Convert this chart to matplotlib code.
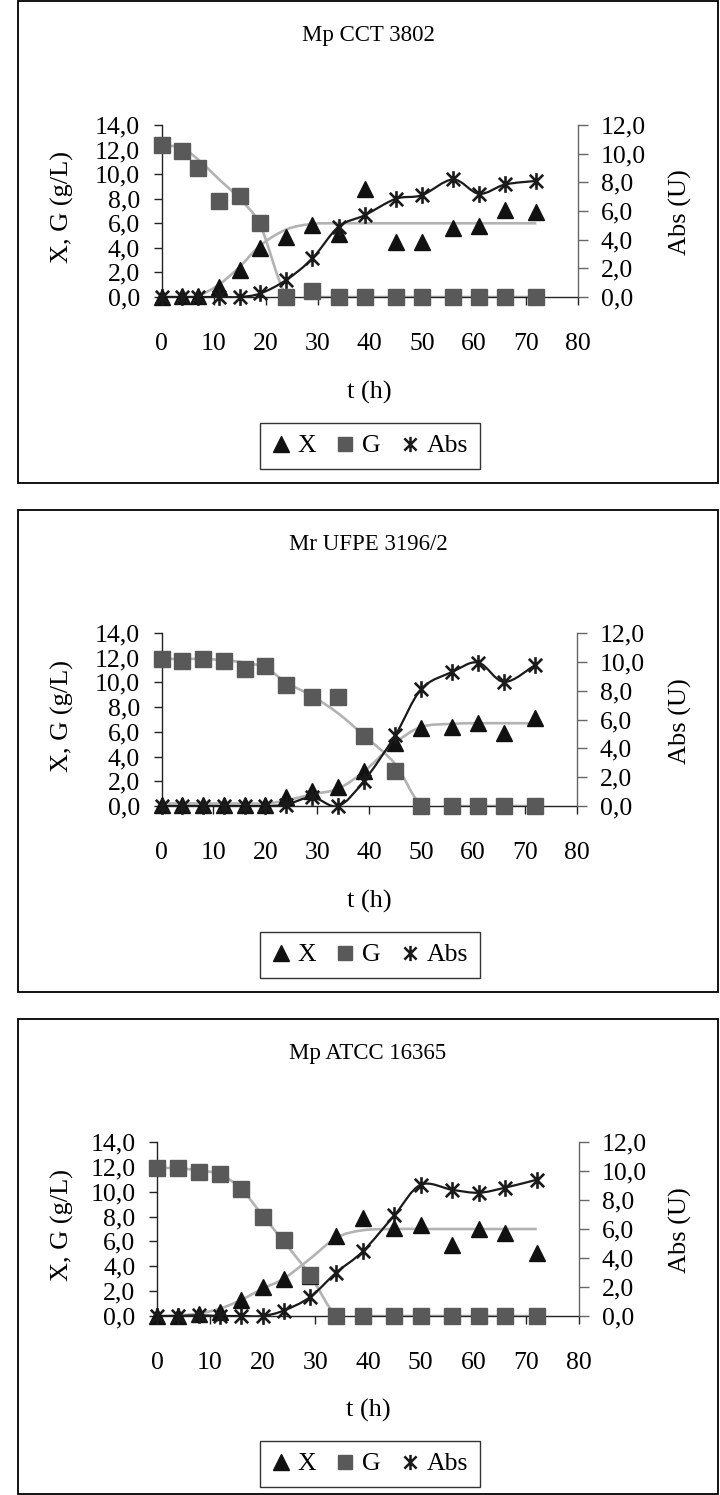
import numpy as np
import matplotlib
matplotlib.use("Agg")
import matplotlib.pyplot as plt
from matplotlib.path import Path
from matplotlib.patches import PathPatch, Rectangle
from matplotlib.lines import Line2D
from matplotlib.ticker import FuncFormatter

plt.rcParams['font.family'] = ['Liberation Serif', 'DejaVu Serif']

# ---------------- data ----------------
titles = ["Mp CCT 3802", "Mr UFPE 3196/2", "Mp ATCC 16365"]

t1 = [0, 4, 7, 11, 15, 19, 24, 29, 34, 39, 45, 50, 56, 61, 66, 72]
X1 = [0.0, 0.05, 0.1, 0.85, 2.2, 4.0, 4.9, 5.9, 5.1, 8.8, 4.5, 4.5, 5.6, 5.8, 7.1, 6.95]
G1 = [12.4, 11.9, 10.5, 7.8, 8.2, 6.0, 0.0, 0.5, 0, 0, 0, 0, 0, 0, 0, 0]
A1 = [0, 0, 0, 0, 0, 0.25, 1.2, 2.7, 4.9, 5.7, 6.85, 7.1, 8.2, 7.2, 7.85, 8.1]
Xfit1 = [0, 0, 0.1, 1.0, 2.45, 4.2, 5.5, 5.95, 6.0, 6.0, 6.0, 6.0, 6.0, 6.0, 6.0, 6.0]
Gfit1 = [12.4, 12.1, 11.2, 9.6, 8.0, 5.8, 0.1, 0, 0, 0, 0, 0, 0, 0, 0, 0]

t2 = [0, 4, 8, 12, 16, 20, 24, 29, 34, 39, 45, 50, 56, 61, 66, 72]
X2 = [0.1, 0.1, 0.1, 0.1, 0.1, 0.1, 0.7, 1.2, 1.5, 2.8, 5.1, 6.3, 6.4, 6.7, 5.9, 7.1]
G2 = [11.9, 11.7, 11.9, 11.7, 11.1, 11.3, 9.8, 8.8, 8.8, 5.7, 2.8, 0, 0, 0, 0, 0]
A2 = [0, 0, 0, 0, 0, 0, 0.1, 0.6, 0, 1.75, 4.9, 8.1, 9.3, 9.95, 8.6, 9.8]
Xfit2 = [0.2, 0.2, 0.2, 0.2, 0.2, 0.2, 0.45, 0.95, 1.4, 2.8, 5.1, 6.4, 6.65, 6.7, 6.7, 6.7]
Gfit2 = [11.9, 11.9, 11.9, 11.8, 11.6, 11.2, 10.0, 8.9, 7.5, 5.7, 3.4, 0.1, 0, 0, 0, 0]

t3 = [0, 4, 8, 12, 16, 20, 24, 29, 34, 39, 45, 50, 56, 61, 66, 72]
X3 = [0, 0, 0.2, 0.35, 1.3, 2.3, 3.0, 3.2, 6.4, 7.9, 7.05, 7.3, 5.7, 7.0, 6.65, 5.05]
G3 = [11.9, 11.9, 11.6, 11.4, 10.2, 8.0, 6.1, 3.3, 0, 0, 0, 0, 0, 0, 0, 0]
A3 = [0, 0, 0.05, 0, 0, 0, 0.37, 1.3, 3.0, 4.45, 6.95, 9.05, 8.7, 8.5, 8.85, 9.4]
Xfit3 = [0, 0.05, 0.2, 0.6, 1.3, 2.2, 3.0, 4.6, 6.3, 6.9, 7.0, 7.0, 7.0, 7.0, 7.0, 7.0]
Gfit3 = [11.9, 11.9, 11.7, 11.4, 10.2, 8.1, 6.0, 3.3, 0.05, 0, 0, 0, 0, 0, 0, 0]

panels = [
    (t1, X1, G1, A1, Xfit1, Gfit1),
    (t2, X2, G2, A2, Xfit2, Gfit2),
    (t3, X3, G3, A3, Xfit3, Gfit3),
]

x_ticks = [0, 10, 20, 30, 40, 50, 60, 70, 80]
left_ticks = [0, 2, 4, 6, 8, 10, 12, 14]
right_ticks = [0, 2, 4, 6, 8, 10, 12]

# ---------------- style / layout (pixels) ----------------
W, H = 720, 1495
fig = plt.figure(figsize=(W / 100, H / 100), dpi=100)

def fx(x):
    return x / W

def fy(y):
    return 1 - y / H

PANEL_DY = 509
plot_boxes = [(161.5, 578, 125, 297), (161.5, 577, 633, 806), (157, 579, 1142, 1316)]

C_TRI = '#111111'
C_SQ = '#595959'
C_FIT = '#b3b3b3'
C_ABS = '#1a1a1a'

ast_path = Path([(-0.8, -0.8), (0.8, 0.8), (-0.8, 0.8), (0.8, -0.8), (0, -1), (0, 1)],
                [Path.MOVETO, Path.LINETO, Path.MOVETO, Path.LINETO, Path.MOVETO, Path.LINETO])


def smooth_path(x, y):
    x = np.asarray(x, float)
    y = np.asarray(y, float)
    n = len(x)
    verts = [(x[0], y[0])]
    codes = [Path.MOVETO]
    for i in range(n - 1):
        i0 = max(i - 1, 0)
        i3 = min(i + 2, n - 1)
        c1 = (x[i] + (x[i + 1] - x[i0]) / 6, y[i] + (y[i + 1] - y[i0]) / 6)
        c2 = (x[i + 1] - (x[i3] - x[i]) / 6, y[i + 1] - (y[i3] - y[i]) / 6)
        verts += [c1, c2, (x[i + 1], y[i + 1])]
        codes += [Path.CURVE4] * 3
    return Path(verts, codes)


def comma_fmt(v, pos):
    return f"{v:.1f}".replace('.', ',')


TICK_FS = 18.5
LABEL_FS = 19

for k, (t, X, G, A, Xf, Gf) in enumerate(panels):
    dy = PANEL_DY * k
    x0, x1, ytop, ybot = plot_boxes[k]

    # outer frame
    top = 1 + dy
    bot = min(483 + dy, H - 1)
    fig.add_artist(Rectangle((fx(18), fy(bot)), fx(718) - fx(18), fy(top) - fy(bot),
                             transform=fig.transFigure, fill=False, edgecolor='black', lw=1.3))

    ax = fig.add_axes([fx(x0), fy(ybot), fx(x1) - fx(x0), fy(ytop) - fy(ybot)])
    ax.set_xlim(0, 80)
    ax.set_ylim(0, 14)
    ax.patch.set_visible(False)
    ax2 = ax.twinx()
    ax2.set_ylim(0, 12)

    for s in ['top', 'right']:
        ax.spines[s].set_visible(False)
    for s in ['top', 'left', 'bottom']:
        ax2.spines[s].set_visible(False)
    ax.spines['left'].set_color('#222222')
    ax.spines['bottom'].set_color('#222222')
    ax2.spines['right'].set_color('#666666')
    for sp in (ax.spines['left'], ax.spines['bottom'], ax2.spines['right']):
        sp.set_linewidth(1.0)

    ax.set_xticks(x_ticks)
    ax.set_yticks(left_ticks)
    ax2.set_yticks(right_ticks)
    ax.yaxis.set_major_formatter(FuncFormatter(comma_fmt))
    ax2.yaxis.set_major_formatter(FuncFormatter(comma_fmt))
    ax.tick_params(axis='x', direction='out', length=6, width=1.0, color='#222222',
                   labelsize=TICK_FS, pad=20)
    ax.tick_params(axis='y', direction='out', length=6, width=1.0, color='#222222',
                   labelsize=TICK_FS, pad=9.5)
    ax2.tick_params(axis='y', direction='out', length=7, width=1.0, color='#666666',
                    labelsize=TICK_FS, pad=9.5)

    # fitted curves (grey)
    ax.add_patch(PathPatch(smooth_path(t, Xf), fill=False, edgecolor=C_FIT, lw=1.9,
                           transform=ax.transData, zorder=2))
    ax.add_patch(PathPatch(smooth_path(t, Gf), fill=False, edgecolor=C_FIT, lw=1.9,
                           transform=ax.transData, zorder=2))

    # data markers
    ax.plot(t, X, ls='none', marker='^', ms=11.5, color=C_TRI, mec=C_TRI, zorder=3, clip_on=False)
    ax.plot(t, G, ls='none', marker='s', ms=11, color=C_SQ, mec=C_SQ, zorder=4, clip_on=False)

    # absorbance (secondary axis)
    ax2.add_patch(PathPatch(smooth_path(t, A), fill=False, edgecolor=C_ABS, lw=1.6,
                            transform=ax2.transData, zorder=2))
    ax2.plot(t, A, ls='none', marker=ast_path, ms=12, mfc='none', mec=C_ABS, mew=1.9,
             zorder=3, clip_on=False)

    # texts
    fig.text(fx(368), fy(36 + dy), titles[k], ha='center', va='center', fontsize=16.5)
    fig.text(fx((x0 + x1) / 2), fy(392 + dy), 't (h)', ha='center', va='center', fontsize=LABEL_FS)
    fig.text(fx(62), fy(207 + dy), 'X, G (g/L)', ha='center', va='center', rotation=90,
             fontsize=LABEL_FS)
    fig.text(fx(680), fy(212 + dy), 'Abs (U)', ha='center', va='center', rotation=90,
             fontsize=LABEL_FS)

    # legend
    handles = [
        Line2D([], [], ls='none', marker='^', ms=11, color=C_TRI),
        Line2D([], [], ls='none', marker='s', ms=10.5, color=C_SQ),
        Line2D([], [], ls='none', marker=ast_path, ms=11, mfc='none', mec=C_ABS, mew=1.8),
    ]
    leg = fig.legend(handles, ['X', 'G', 'Abs'], loc='center', ncol=3,
                     bbox_to_anchor=(fx(370), fy(446 + dy)), bbox_transform=fig.transFigure,
                     fontsize=18.5, frameon=True, fancybox=False, edgecolor='black',
                     handlelength=0.7, handletextpad=0.3, columnspacing=0.8,
                     borderpad=0.45, borderaxespad=0)
    leg.get_frame().set_linewidth(1.0)

fig.savefig('out.png', dpi=100)
